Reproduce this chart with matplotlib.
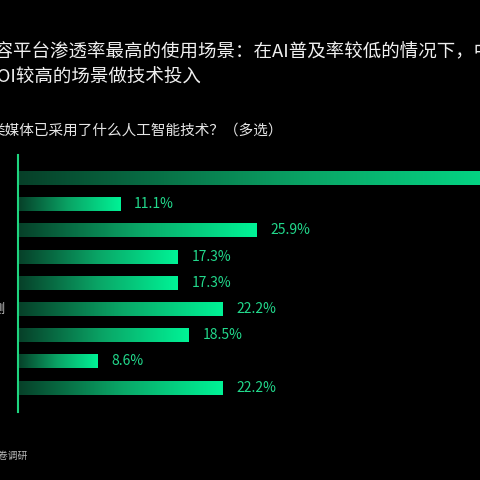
import matplotlib
matplotlib.use('Agg')
import matplotlib.pyplot as plt
import numpy as np
from matplotlib.colors import LinearSegmentedColormap

plt.rcParams['font.family'] = ['Noto Sans CJK SC', 'DejaVu Sans']

# Data
values = [63.0, 11.1, 25.9, 17.3, 17.3, 22.2, 18.5, 8.6, 22.2]
value_labels = ['63.0%', '11.1%', '25.9%', '17.3%', '17.3%', '22.2%', '18.5%', '8.6%', '22.2%']
title_line1 = '内容平台渗透率最高的使用场景：在AI普及率较低的情况下，中'
title_line2 = '选择ROI较高的场景做技术投入'
subtitle = '类媒体已采用了什么人工智能技术？（多选）'
cat_fragment = '预测'
source = '来源：问卷调研'

W = H = 480
fig = plt.figure(figsize=(4.8, 4.8), dpi=100, facecolor='black')

def fx(px):
    return px / W

def fy(py):
    return 1 - py / H

ax = fig.add_axes([fx(18), fy(412), 462 / W, 257 / H])
ax.set_facecolor('black')

cmap = LinearSegmentedColormap.from_list('g', ['#063f28', '#0aa566', '#00f396'])
pos = np.arange(len(values))
bars = ax.barh(pos, values, height=0.53, facecolor='none', edgecolor='none')
grad = np.linspace(0, 1, 256).reshape(1, -1)
for b in bars:
    x0, y0 = b.get_x(), b.get_y()
    w, h = b.get_width(), b.get_height()
    ax.imshow(grad, cmap=cmap, aspect='auto', interpolation='bilinear',
              extent=[x0, x0 + w, y0 + h, y0], clip_path=b, zorder=2)

for i, (v, lab) in enumerate(zip(values, value_labels)):
    ax.annotate(lab, (v, i), xytext=(10, 0), textcoords='offset points',
                va='center', ha='left', color='#22d98c', fontsize=10)

ax.set_xlim(0, 50.1)
ax.set_ylim(8.93, -0.88)
for s in ['top', 'right', 'bottom']:
    ax.spines[s].set_visible(False)
ax.spines['left'].set_color('#1ed47f')
ax.spines['left'].set_linewidth(1.5)
ax.set_xticks([])
ax.set_yticks([])

fig.text(fx(-24), fy(52), title_line1, color='#f0f0f0', fontsize=13.3, ha='left', va='center')
fig.text(fx(-52), fy(78), title_line2, color='#f0f0f0', fontsize=13.3, ha='left', va='center')
fig.text(fx(-10), fy(131), subtitle, color='#e6e6e6', fontsize=10.5, ha='left', va='center')
fig.text(fx(6), fy(309), cat_fragment, color='#cccccc', fontsize=9, ha='right', va='center')
fig.text(fx(28), fy(456), source, color='#bbbbbb', fontsize=7, ha='right', va='center')

fig.savefig('out.png', dpi=100, facecolor='black')
